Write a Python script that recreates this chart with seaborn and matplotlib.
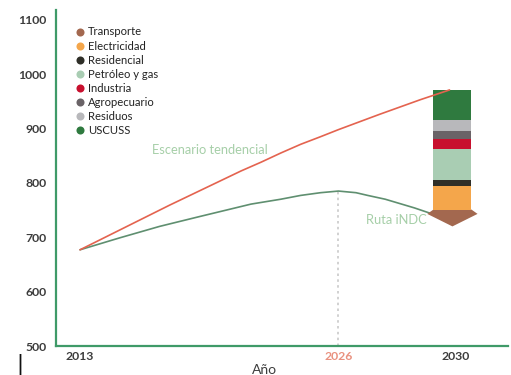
import numpy as np
import pandas as pd
import matplotlib
matplotlib.use("Agg")
import matplotlib.pyplot as plt
from matplotlib.lines import Line2D
import seaborn as sns

# trajectories (MtCO2e)
years_tend = [2013, 2017.5, 2021.1, 2022.1, 2023.1, 2024.1, 2025.1, 2026,
              2027.4, 2028.8, 2029.8]
tendencial = [677, 759, 822, 838, 855, 871, 885, 898, 926, 953, 971]

years_indc = [2013, 2015, 2017, 2019, 2021.6, 2023.1, 2024.1, 2025.1, 2026,
              2026.6, 2027, 2027.6, 2028.1, 2028.6, 2029.15, 2029.8]
indc = [677, 699, 720, 738, 761, 770, 777, 782, 785,
        782, 777, 770, 762, 754, 744, 727]

# mitigation by sector in 2030, bottom to top
sectors = ["Transporte", "Electricidad", "Residencial", "Petróleo y gas",
           "Industria", "Agropecuario", "Residuos", "USCUSS"]
reductions = [31, 43, 11, 58, 17, 15, 20, 56]
colors = ["#a3684f", "#f4a64b", "#2f2f28", "#a9cdb3",
          "#c8102e", "#6a6367", "#b8b8bb", "#2f7a3f"]

x_ticks = [2013, 2026, 2030]
y_ticks = [500, 600, 700, 800, 900, 1000, 1100]

sns.set_style("white")
plt.rcParams["font.family"] = ["Lato", "DejaVu Sans"]

SPINE = "#3f9a68"
TXT = "#3d3d3d"


def fwd(x):
    x = np.asarray(x, dtype=float)
    return np.where(x <= 2026, x - 2013, 13 + (x - 2026) * 1.47)


def inv(u):
    u = np.asarray(u, dtype=float)
    return np.where(u <= 13, u + 2013, 2026 + (u - 13) / 1.47)


fig = plt.figure(figsize=(5.11, 3.75), dpi=100)
ax = fig.add_axes([0.1096, 0.0773, 0.8844, 0.896])
ax.set_xscale("function", functions=(fwd, inv))

df_t = pd.DataFrame({"year": years_tend, "val": tendencial})
df_i = pd.DataFrame({"year": years_indc, "val": indc})
sns.lineplot(data=df_t, x="year", y="val", ax=ax, color="#e4634f", lw=1.2, zorder=4)
sns.lineplot(data=df_i, x="year", y="val", ax=ax, color="#5f8f70", lw=1.2, zorder=2)

# dotted guide at 2026
peak = indc[years_indc.index(2026)]
ax.plot([2026, 2026], [500, peak], color="#c9c9c9", lw=1.2, ls=(0, (1.5, 2)), zorder=1)

# stacked bar (Transporte drawn as the arrow tip)
bar_x = 2029.9
bar_w = 1.3
base = tendencial[-1] - sum(reductions)
bottoms = np.concatenate([[base], base + np.cumsum(reductions)[:-1]])
for i, (name, val, col) in enumerate(zip(sectors, reductions, colors)):
    if i == 0:
        top = bottoms[0] + val
        flare = top - 8
        aw = 1.72
        px = [bar_x - bar_w / 2, bar_x + bar_w / 2, bar_x + aw / 2, bar_x, bar_x - aw / 2]
        py = [top, top, flare, base, flare]
        ax.fill(px, py, color=col, lw=0, zorder=3)
    else:
        ax.bar(bar_x, val, bottom=bottoms[i], width=bar_w, color=col, lw=0, zorder=3)

ax.text(2016.6, 860, "Escenario tendencial", color="#a6cfa8", fontsize=9.3, va="center")
ax.text(2026.95, 731, "Ruta iNDC", color="#a6cfa8", fontsize=9.3, va="center")

ax.set_xlim(2011.79, 2031.8)
ax.set_ylim(500, 1118)
ax.set_yticks(y_ticks)
ax.set_yticklabels([str(v) for v in y_ticks], color=TXT, fontsize=8.8, fontweight="bold")
ax.set_xticks(x_ticks)
ax.set_xticklabels([str(v) for v in x_ticks], fontsize=8.8, fontweight="bold", color=TXT)
ax.get_xticklabels()[1].set_color("#e9917f")
ax.tick_params(axis="y", length=0, pad=7)
ax.tick_params(axis="x", length=0, pad=3.5)
ax.set_xlabel("Año", fontsize=10, color=TXT)
ax.xaxis.set_label_coords(0.462, -0.055)
ax.set_ylabel("")

for s in ["top", "right"]:
    ax.spines[s].set_visible(False)
for s in ["left", "bottom"]:
    ax.spines[s].set_color(SPINE)
    ax.spines[s].set_linewidth(1.6)

handles = [Line2D([], [], marker="o", ls="", markersize=5.8, color=c,
                  markeredgewidth=0) for c in colors]
ax.legend(handles, sectors, loc="upper left", bbox_to_anchor=(0.044, 0.951),
          frameon=False, fontsize=8.1, handlelength=0.8, handletextpad=0.3,
          labelspacing=0.27, borderpad=0, borderaxespad=0, labelcolor="#222222")

fig.text(0.033, 0.015, "|", fontsize=15, color="#111111", family="DejaVu Sans")

fig.savefig("out.png", dpi=100)
